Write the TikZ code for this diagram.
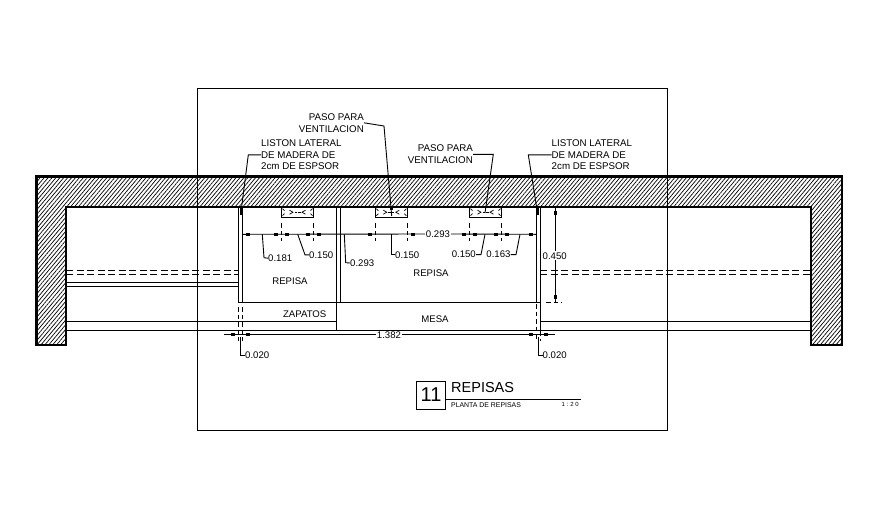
\documentclass[tikz,border=0pt]{standalone}
\usepackage{fontspec}
\setmainfont{Liberation Sans}
\usetikzlibrary{patterns.meta}
\tikzset{
  wall/.style={line width=2.4pt,pattern={Lines[angle=50,distance=3pt,line width=.7pt]},line join=miter},
  framelin/.style={line width=1pt},
  solid1/.style={line width=1pt},
  dashlin/.style={line width=1pt,dash pattern=on 7pt off 3.5pt},
  extlin/.style={line width=1pt,dash pattern=on 4.5pt off 3pt},
  leader/.style={line width=.9pt},
  lbl/.style={inner sep=0pt,font=\fontsize{9.75}{11.8}\selectfont},
  num/.style={inner sep=0pt,font=\fontsize{9.6}{11}\selectfont},
  numbg/.style={num,fill=white,inner xsep=1pt,inner ysep=1pt},
}
\newcommand{\tickh}[2]{\fill (#1-2.2,#2-1.5) rectangle (#1+2.2,#2+1.5);}
\newcommand{\tickv}[2]{\fill (#1-1.5,#2-2.2) rectangle (#1+1.5,#2+2.2);}
\newcommand{\ventbox}[2]{%
  \draw[solid1] (#1,207) -- (#1,217.3) -- (#2,217.3) -- (#2,207);
  \begin{scope}[shift={({(#1+#2)/2},212.2)},line width=.7pt]
    \draw (-8,-2) -- (-4.5,0) -- (-8,2);
    \draw (8,-2) -- (4.5,0) -- (8,2);
    \draw (-3,0) -- (-.8,0) (.8,0) -- (3,0);
    \draw (-15,-3.5) -- (-13,-1.5) (15,-3.5) -- (13,-1.5) (-15,3.5) -- (-13,1.5) (15,3.5) -- (13,1.5);
  \end{scope}
}
\begin{document}
\begin{tikzpicture}[x=1pt,y=-1pt]
\fill[white] (0,0) rectangle (873,515);
\useasboundingbox (0,0) rectangle (873,515);
% wall
\draw[wall] (36.5,176.5) -- (842,176.5) -- (842,345) -- (811,345) -- (811,207) -- (66,207) -- (66,345) -- (36.5,345) -- cycle;
% sheet frame
\draw[framelin] (197.3,88.3) rectangle (667.3,430.3);
% long lines
\draw[dashlin] (66,270.3) -- (238.3,270.3) (66,274.3) -- (238.3,274.3);
\draw[dashlin] (540.3,270.3) -- (811,270.3) (540.3,274.3) -- (811,274.3);
\draw[solid1] (66,282.3) -- (238.3,282.3) (66,286.3) -- (238.3,286.3);
\draw[solid1] (66,321.3) -- (336.3,321.3) (540.3,321.3) -- (811,321.3);
\draw[solid1] (66,330.3) -- (811,330.3);
% shelves
\draw[solid1] (238.3,207) -- (238.3,302.3) -- (540.3,302.3);
\draw[solid1] (242.3,207) -- (242.3,302.3);
\draw[solid1] (336.3,207) -- (336.3,330.3);
\draw[solid1] (340.3,207) -- (340.3,302.3);
\draw[solid1] (536.3,207) -- (536.3,302.3);
\draw[solid1] (540.3,207) -- (540.3,330.3);
\draw[extlin] (238.3,307) -- (238.3,341) (242.3,307) -- (242.3,341);
\draw[extlin] (536.3,304) -- (536.3,341);
\draw[extlin] (540.3,331) -- (540.3,341);
% vents
\ventbox{281.3}{313.7}
\ventbox{375.3}{407.3}
\ventbox{469.3}{501.7}
\foreach \x in {281.3,313.7,375.3,407.3,469.3,501.7}
  \draw[extlin] (\x,223) -- (\x,241);
% horizontal dimension
\node[numbg] (d293) at (438,234) {0.293};
\draw[leader] (242.3,234.3) -- (d293.west) (d293.east) -- (536.3,234.3);
\foreach \x in {247.7,275.7,287,308,319,370,413,464,475,496,507,530.7}
  \tickh{\x}{234.3}
% total dimension
\node[numbg] (d1382) at (389,335.5) {1.382};
\coordinate (dl) at (224,334.3);
\coordinate (dr) at (555,334.3);
\draw[leader] (dl) -- (d1382.west |- dl) (d1382.east |- dr) -- (dr);
\foreach \x in {232.7,247.7,530.7,546}
  \tickh{\x}{334.3}
% vertical dimension
\node[numbg] (d450) at (554.7,255.7) {0.450};
\coordinate (vt) at (555.3,207);
\coordinate (vb) at (555.3,302.3);
\draw[leader] (vt) -- (vt |- d450.north) (vb |- d450.south) -- (vb);
\tickv{555.3}{212.7}
\tickv{555.3}{296.7}
\draw[extlin] (546,302.3) -- (562,302.3);
% small dimension labels
\node[num,anchor=west] (n181) at (268,258.2) {0.181};
\draw[leader] (262.3,234.3) -- (264,257.7) -- (n181.west);
\node[num,anchor=west] (n150a) at (309,254.8) {0.150};
\draw[leader] (297.7,234.3) -- (305,254.8) -- (n150a.west);
\node[num,anchor=west] (n293) at (350,263) {0.293};
\draw[leader] (344.3,234.3) -- (345.7,262.7) -- (n293.west);
\node[num,anchor=west] (n150b) at (395,254.8) {0.150};
\draw[leader] (391.7,234.3) -- (391.7,254.8) -- (n150b.west);
\node[num,anchor=east] (n150c) at (476,254.6) {0.150};
\draw[leader] (485,234.3) -- (481,254.6) -- (n150c.east);
\node[num,anchor=east] (n163) at (510.7,254.6) {0.163};
\draw[leader] (520,234.3) -- (516,254.6) -- (n163.east);
\node[num,anchor=west] (n020a) at (245,355.5) {0.020};
\draw[leader] (240.7,337) -- (240.7,355.5) -- (n020a.west);
\node[num,anchor=west] (n020b) at (542.5,355.5) {0.020};
\draw[leader] (538.3,337) -- (538.3,355.5) -- (n020b.west);
% room labels
\node[num] (r1) at (290,280.7) {REPISA};
\node[num] (r2) at (431,273.3) {REPISA};
\node[num] (r3) at (304.7,314.3) {ZAPATOS};
\node[num] (r4) at (435,318.7) {MESA};
% callouts
\node[lbl,align=left,anchor=west] (l1) at (261,154.8) {LISTON LATERAL\\DE MADERA DE\\2cm DE ESPSOR};
\coordinate (l1t) at (240.7,214);
\draw[leader] (l1.west) -- (248.3,154.8) -- (l1t);
\fill (239.6,207) rectangle (241.8,215);
\node[lbl,align=left,anchor=west] (l2) at (551.5,154.8) {LISTON LATERAL\\DE MADERA DE\\2cm DE ESPSOR};
\coordinate (l2t) at (537.7,214);
\draw[leader] (l2.west) -- (528.3,154.8) -- (l2t);
\fill (536.6,207) rectangle (538.8,215);
\node[lbl,align=right,anchor=east] (p1) at (364,122.8) {PASO PARA\\VENTILACION};
\coordinate (p1t) at (391.7,216);
\draw[leader] (p1.east) -- (384,126) -- (p1t);
\fill (390.3,207) rectangle (393,210);
\node[lbl,align=right,anchor=east] (p2) at (473,154.3) {PASO PARA\\VENTILACION};
\coordinate (p2t) at (485,213);
\draw[leader] (p2.east) -- (493.3,154.3) -- (p2t);
% title block
\node[draw,line width=1pt,minimum width=29.5pt,minimum height=28pt,inner sep=0pt,font=\fontsize{20}{22}\selectfont] (num11) at (431,395) {11};
\node[inner sep=0pt,anchor=west,font=\fontsize{14.5}{16}\selectfont] (ttl) at (451,387.5) {REPISAS};
\coordinate (ulr) at (581,399.3);
\draw[line width=1pt] (num11.east |- ulr) -- (ulr);
\node[inner sep=0pt,anchor=west,font=\fontsize{6.9}{8}\selectfont] (sub) at (451,404.7) {PLANTA DE REPISAS};
\node[inner sep=0pt,anchor=east,font=\fontsize{6}{7}\selectfont] (esc) at (579,404.7) {1 : 2 0};
\end{tikzpicture}
\end{document}
